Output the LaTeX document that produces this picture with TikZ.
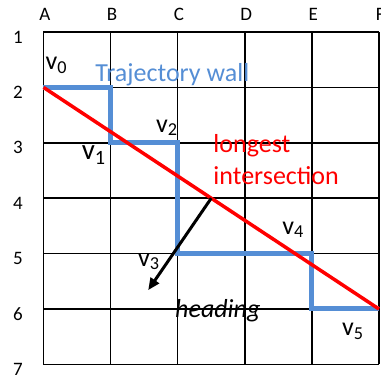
\documentclass[tikz,border=0pt]{standalone}
\usepackage{fontspec}
\setmainfont{Carlito}
\usetikzlibrary{arrows.meta, positioning, calc}
\definecolor{WallBlue}{HTML}{558ED5}
\definecolor{ChordRed}{HTML}{FF0000}
\tikzset{
    % Cell grid
    cellgrid/.style={
        draw=black,
        line width=1.5pt
    },
    % Row and column labels
    axislabel/.style={
        font=\fontsize{19}{19}\selectfont,
        inner sep=0pt
    },
    % Trajectory wall
    wall/.style={
        draw=WallBlue,
        line width=5pt,
        line join=miter
    },
    % Straight line through the end vertices
    chord/.style={
        draw=ChordRed,
        line width=3.5pt
    },
    % Heading arrow
    arrow/.style={
        -{Triangle[length=12pt, width=10pt]},
        line width=3pt,
        color=black
    },
    % Vertex label
    vertex/.style={
        font=\fontsize{26}{26}\selectfont,
        inner sep=0pt
    },
    % Annotation text
    note/.style={
        font=\fontsize{26}{32}\selectfont,
        inner sep=0pt,
        align=left
    }
}
\begin{document}
\begin{tikzpicture}[x=67.1pt, y=-55.4pt]
        \useasboundingbox (-43.5pt,32pt) rectangle (337.5pt,-345pt);

        % Grid and labels
        \foreach \i in {0,...,5}
            \draw [cellgrid] (\i,0) -- (\i,6);
        \foreach \i in {0,...,6}
            \draw [cellgrid] (0,\i) -- (5,\i);
        \foreach \c [count=\i from 0] in {A,B,C,D,E,F}
            \node (col\c) [axislabel] at (\i+0.02,-0.31) {\c};
        \foreach \r [count=\i from 0] in {1,...,7}
            \node (row\r) [axislabel] at (-0.38,\i+0.09) {\r};

        % Wall vertices
        \coordinate (v0) at (0,1);
        \coordinate (w1) at (1,1);
        \coordinate (v1) at (1,2);
        \coordinate (v2) at (2,2);
        \coordinate (v3) at (2,4);
        \coordinate (v4) at (4,4);
        \coordinate (w5) at (4,5);
        \coordinate (v5) at (5,5);

        \draw [wall] (v0) -- (w1) -- (v1) -- (v2) -- (v3) -- (v4) -- (w5) -- (v5);
        \draw [chord] (v0) -- (v5);

        % Heading
        \coordinate (hit) at ($(v0)!0.5!(v5)$);
        \coordinate (aim) at (1.56,4.66);
        \draw [arrow] (hit) -- (aim);

        \node (lv0) [vertex] at (0.19,0.6) {v\textsubscript{0}};
        \node (lv1) [vertex, font=\fontsize{29}{29}\selectfont] at (0.75,2.22) {v\textsubscript{1}};
        \node (lv2) [vertex] at (1.84,1.73) {v\textsubscript{2}};
        \node (lv3) [vertex] at (1.57,4.15) {v\textsubscript{3}};
        \node (lv4) [vertex] at (3.72,3.57) {v\textsubscript{4}};
        \node (lv5) [vertex] at (4.61,5.4) {v\textsubscript{5}};

        \node (walltext) [note, text=WallBlue, anchor=base west] at (0.77,0.885) {Trajectory wall};
        \node (longtext) [note, text=ChordRed, anchor=base west] at (2.53,2.76) {longest\\intersection};
        \node (headtext) [note, font=\fontsize{26}{32}\selectfont\itshape, anchor=base west] at (1.96,5.16) {heading};
    \end{tikzpicture}
\end{document}
